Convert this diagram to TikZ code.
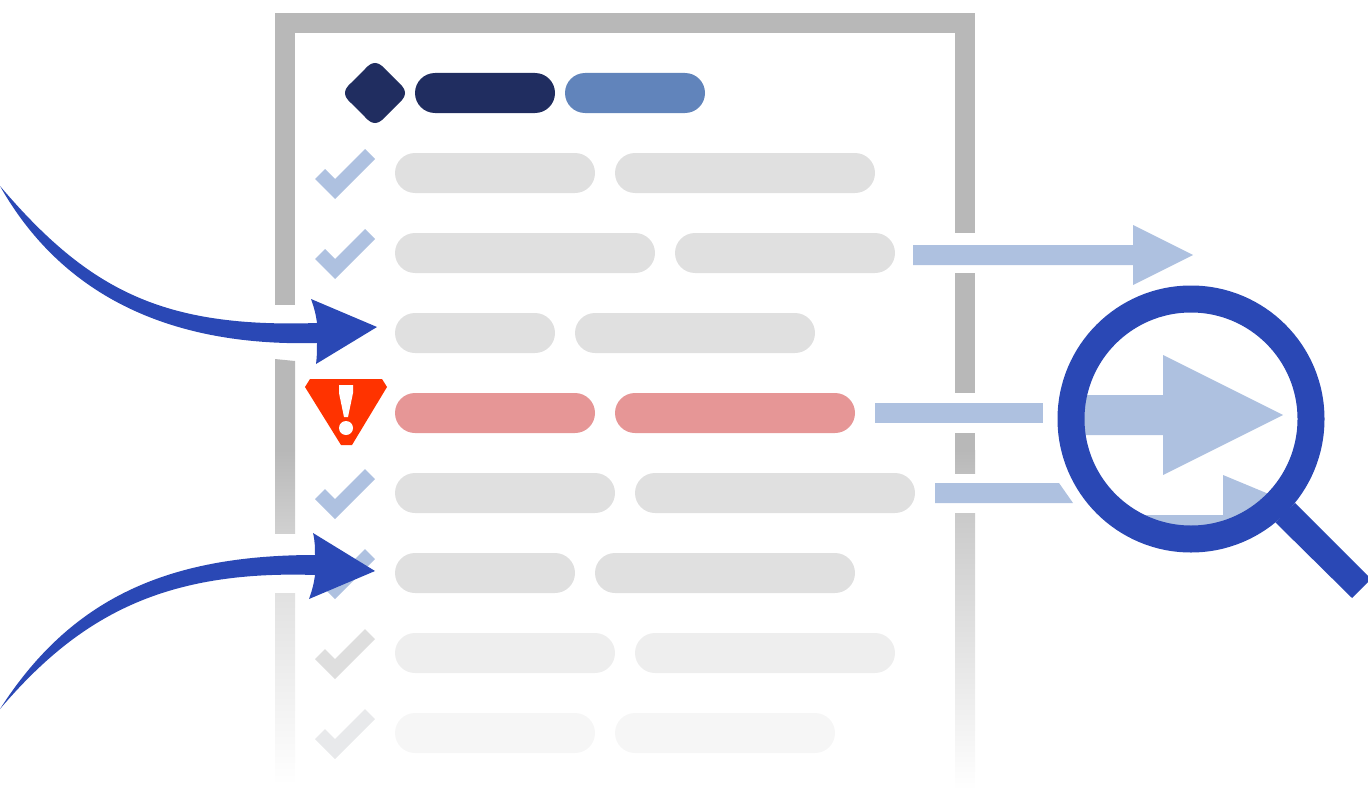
\documentclass[tikz,border=0pt]{standalone}
\usepackage{xcolor}
\definecolor{framegray}{HTML}{B8B8B8}
\definecolor{arrowblue}{HTML}{2A48B5}
\definecolor{lightblue}{HTML}{AEC1E0}
\definecolor{headdark}{HTML}{202D60}
\definecolor{headblue}{HTML}{6184BB}
\definecolor{pillgray}{HTML}{E0E0E0}
\definecolor{pillred}{HTML}{E69696}
\definecolor{pillpale}{HTML}{EEEEEE}
\definecolor{pillfaint}{HTML}{F6F6F6}
\definecolor{checkpale}{HTML}{DEDEDE}
\definecolor{checkfaint}{HTML}{E8E9EB}
\definecolor{warnred}{HTML}{FF3300}
\tikzset{
  pill/.style={rounded corners=20pt},
  lensring/.style={draw=arrowblue,line width=27pt}
}

\begin{document}
\begin{tikzpicture}[x=1pt,y=-1pt]
\useasboundingbox (0,0) rectangle (1368,792);

% Rahmen
\fill[framegray] (275,13) rectangle (975,33);
\fill[framegray] (275,33) rectangle (295,305);
\fill[framegray] (275,359) -- (295,361) -- (295,450) -- (275,450) -- cycle;
\shade[top color=framegray,bottom color=framegray!65!white] (275,450) rectangle (295,533);
\shade[top color=framegray!42!white,bottom color=white] (275,593) rectangle (295,785);
\fill[framegray] (955,33) rectangle (975,233);
\fill[framegray] (955,273) rectangle (975,393);
\fill[framegray] (955,433) rectangle (975,450);
\shade[top color=framegray,bottom color=framegray!90!white] (955,450) rectangle (975,473);
\shade[top color=framegray!75!white,bottom color=white] (955,513) rectangle (975,790);

% Kopfzeile
\fill[headdark] (365,69) .. controls (372,61) and (378,61) .. (385,69) -- (399,83)
  .. controls (407,90) and (407,96) .. (399,103) -- (385,117)
  .. controls (378,125) and (372,125) .. (365,117) -- (351,103)
  .. controls (343,96) and (343,90) .. (351,83) -- cycle;
\fill[headdark,pill] (415,73) rectangle (555,113);
\fill[headblue,pill] (565,73) rectangle (705,113);

% Zeilen
\foreach \y/\a/\b/\c/\d/\col in {173/395/595/615/875/pillgray,
    253/395/655/675/895/pillgray,
    333/395/555/575/815/pillgray,
    413/395/595/615/855/pillred,
    493/395/615/635/915/pillgray,
    573/395/575/595/855/pillgray,
    653/395/615/635/895/pillpale,
    733/395/595/615/835/pillfaint}{
  \fill[\col,pill] (\a,\y-20) rectangle (\b,\y+20);
  \fill[\col,pill] (\c,\y-20) rectangle (\d,\y+20);
}

% Haken
\foreach \y/\col in {174/lightblue,254/lightblue,494/lightblue,574/lightblue,654/checkpale,734/checkfaint}{
  \fill[\col] (365,\y-25) -- (375,\y-15) -- (335,\y+25) -- (315,\y+5) -- (325,\y-5) -- (335,\y+5) -- cycle;
}

% Warnung
\fill[warnred] (310,379) -- (382,379) -- (387,387) -- (352,445) -- (341,445) -- (305,387) -- cycle;
\fill[white] (339,385) -- (353,385) -- (353,393) -- (348,417) -- (344,417) -- (339,393) -- cycle;
\fill[white] (346,428) circle (7);

% helle Pfeile
\fill[lightblue] (913,245) -- (1133,245) -- (1133,225) -- (1193,255) -- (1133,285) -- (1133,265) -- (913,265) -- cycle;
\fill[lightblue] (875,403) rectangle (1043,423);
\fill[lightblue] (935,483) -- (1059,483) -- (1073,503) -- (935,503) -- cycle;

% Lupe
\begin{scope}
  \clip (1191,419) circle (120);
  \fill[lightblue] (1060,395) -- (1163,395) -- (1163,355) -- (1283,415) -- (1163,475) -- (1163,435) -- (1060,435) -- cycle;
  \fill[lightblue] (1100,515) -- (1223,515) -- (1223,475) -- (1300,507) -- (1300,600) -- (1100,600) -- cycle;
\end{scope}
\draw[lensring] (1191,419) circle (120);
\fill[arrowblue] (1275.5,522.5) -- (1295,503) -- (1368,576) -- (1368,582) -- (1352,598) -- cycle;

% blaue Pfeile
\fill[arrowblue] (0,186) .. controls (90,292) and (165,328) .. (317,323)
  .. controls (316,315) and (314,307) .. (311,299) -- (377,327) -- (316,364)
  .. controls (317,357) and (317,350) .. (317,343)
  .. controls (165,347) and (60,292) .. (0,186) -- cycle;
\fill[arrowblue] (0,709) .. controls (70,600) and (165,555) .. (315,555)
  .. controls (315,548) and (315,541) .. (313,533) -- (375,571) -- (309,599)
  .. controls (312,591) and (314,583) .. (315,575)
  .. controls (165,570) and (80,615) .. (0,709) -- cycle;
\end{tikzpicture}
\end{document}
